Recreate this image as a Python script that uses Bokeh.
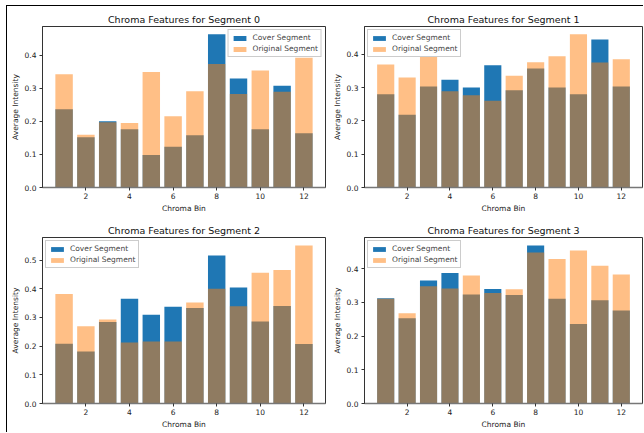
from bokeh.plotting import figure
from bokeh.layouts import column, row
from bokeh.models import Range1d, FixedTicker, PrintfTickFormatter, Legend, LegendItem, InlineStyleSheet
from bokeh.embed import file_html
from bokeh.resources import INLINE

bins = list(range(1, 13))
x_ticks = [2, 4, 6, 8, 10, 12]

cover_0 = [0.236, 0.152, 0.200, 0.176, 0.098, 0.123, 0.158, 0.463, 0.329, 0.176, 0.307, 0.164]
orig_0 = [0.342, 0.159, 0.197, 0.195, 0.349, 0.215, 0.291, 0.373, 0.282, 0.353, 0.289, 0.392]

cover_1 = [0.280, 0.218, 0.303, 0.323, 0.300, 0.367, 0.292, 0.357, 0.300, 0.280, 0.444, 0.303]
orig_1 = [0.369, 0.330, 0.392, 0.289, 0.277, 0.260, 0.335, 0.376, 0.394, 0.460, 0.375, 0.385]

cover_2 = [0.208, 0.181, 0.284, 0.365, 0.309, 0.337, 0.333, 0.516, 0.404, 0.286, 0.340, 0.207]
orig_2 = [0.382, 0.269, 0.293, 0.213, 0.216, 0.216, 0.352, 0.400, 0.339, 0.456, 0.465, 0.551]

cover_3 = [0.312, 0.253, 0.365, 0.387, 0.323, 0.340, 0.322, 0.469, 0.311, 0.236, 0.306, 0.276]
orig_3 = [0.311, 0.268, 0.348, 0.341, 0.380, 0.328, 0.339, 0.448, 0.429, 0.454, 0.409, 0.383]

segments = [
    ("Chroma Features for Segment 0", cover_0, orig_0, "top_right"),
    ("Chroma Features for Segment 1", cover_1, orig_1, "top_left"),
    ("Chroma Features for Segment 2", cover_2, orig_2, "top_left"),
    ("Chroma Features for Segment 3", cover_3, orig_3, "top_left"),
]

FONT = "DejaVu Sans"
# (width, height, left, right, top, bottom)
geoms = [
    (329, 215, 42, 4, 26, 22),
    (314, 215, 30, 1, 26, 22),
    (329, 217, 42, 4, 22, 29),
    (314, 217, 30, 1, 22, 29),
]

figs = []
for (title, cover, orig, loc), (w, h, bl, br, bt, bb) in zip(segments, geoms):
    ymax = 1.05 * max(max(cover), max(orig))
    p = figure(width=w, height=h, output_backend="svg", toolbar_location=None,
               x_range=Range1d(0.01, 12.99), y_range=Range1d(0, ymax),
               min_border_left=bl, min_border_right=br, min_border_top=bt,
               min_border_bottom=bb)
    p.title.text = title
    p.title.align = "center"
    p.title.text_font = FONT
    p.title.text_font_size = "9.5px"
    p.title.text_font_style = "normal"
    p.title.text_color = "#111111"
    p.title.standoff = 3
    p.title.offset = 0
    r1 = p.vbar(x=bins, top=cover, width=0.8, fill_color="#1f77b4", line_color=None)
    r2 = p.vbar(x=bins, top=orig, width=0.8, fill_color="#ff7f0e", fill_alpha=0.5, line_color=None)
    p.xgrid.visible = False
    p.ygrid.visible = False
    p.outline_line_color = "#333333"
    p.outline_line_width = 1
    p.background_fill_color = "white"
    p.border_fill_color = "white"
    p.xaxis.ticker = FixedTicker(ticks=x_ticks)
    p.xaxis.axis_label = "Chroma Bin"
    p.yaxis.axis_label = "Average Intensity"
    p.yaxis.formatter = PrintfTickFormatter(format="%.1f")
    for ax in (p.xaxis[0], p.yaxis[0]):
        ax.axis_line_color = "#333333"
        ax.major_tick_line_color = "#333333"
        ax.minor_tick_line_color = None
        ax.major_tick_out = 3
        ax.major_tick_in = 0
        ax.major_label_text_font = FONT
        ax.major_label_text_font_size = "7.5px"
        ax.major_label_text_color = "#222222"
        ax.major_label_standoff = 2
        ax.axis_label_text_font = FONT
        ax.axis_label_text_font_size = "7.5px"
        ax.axis_label_text_font_style = "normal"
        ax.axis_label_standoff = 2
        ax.axis_label_text_color = "#222222"
    p.xaxis[0].axis_line_width = 1.5
    p.xaxis[0].axis_line_color = "#777777"
    legend = Legend(items=[LegendItem(label="Cover Segment", renderers=[r1]),
                           LegendItem(label="Original Segment", renderers=[r2])],
                    location=loc)
    legend.label_text_font = FONT
    legend.label_text_font_size = "7.5px"
    legend.label_height = 9
    legend.glyph_height = 6
    legend.glyph_width = 16
    legend.spacing = 2
    legend.padding = 3
    legend.margin = 3
    legend.label_standoff = 5
    legend.border_line_color = "#cccccc"
    legend.border_line_alpha = 1
    legend.background_fill_alpha = 0.8
    p.add_layout(legend)
    figs.append(p)

frame_css = InlineStyleSheet(css="""
:host { position: relative; }
:host::after {
  content: ''; position: absolute; left: 6px; top: 5px; right: 0; bottom: 0;
  border-top: 1px solid #000; border-left: 1px solid #000;
  pointer-events: none; z-index: 10;
}
""")

layout = column(row(figs[0], figs[1], spacing=0), row(figs[2], figs[3], spacing=0),
                spacing=0, stylesheets=[frame_css])

with open("out.html", "w") as f:
    f.write(file_html(layout, INLINE))
